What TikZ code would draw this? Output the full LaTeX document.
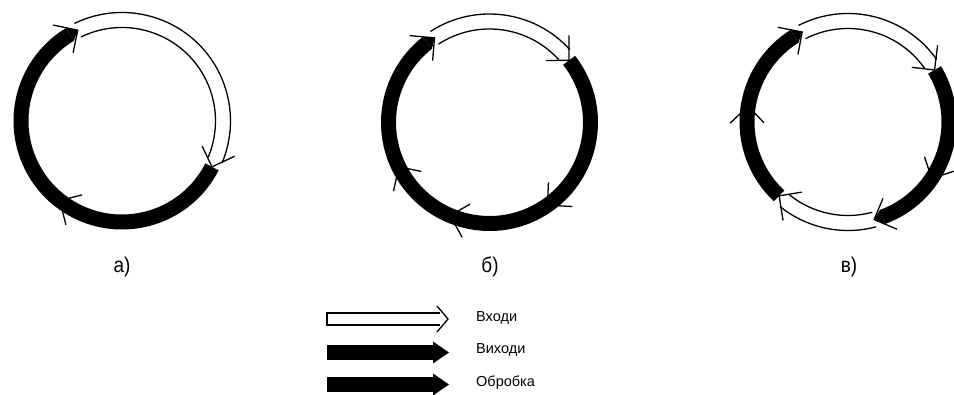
\documentclass[tikz,border=0pt]{standalone}
\usepackage{fontspec}
\setmainfont{Liberation Sans}
\tikzset{
  band/.style={line width=15pt},
  bandline/.style={line width=1.3pt},
  barb/.style={line width=1.3pt},
  lbl/.style={font=\fontsize{19}{19}\selectfont, yscale=1.12, inner sep=0pt},
  legtext/.style={font=\fontsize{14.5}{15}\selectfont, anchor=west, inner sep=0pt},
}
% black band: center, start angle, end angle (clockwise)
\newcommand\segblack[3]{\draw[band] ([shift={(#2:101pt)}]#1) arc[start angle=#2,end angle=#3,radius=101pt];}
% black pointed tip: center, tip angle
\newcommand\btip[2]{\fill ([shift={(#2+5:108.5pt)}]#1) -- ([shift={(#2:101pt)}]#1) -- ([shift={(#2+5:93.5pt)}]#1) -- cycle;}
% chevron: center, tip angle
\newcommand\chev[2]{\draw[barb] ([shift={(#2+9.6:118pt)}]#1) -- ([shift={(#2:101pt)}]#1) -- ([shift={(#2+9.6:84pt)}]#1);}
% white band: center, start angle, tip angle
\newcommand\segwhite[3]{%
  \fill[white] ([shift={(#2:108.5pt)}]#1) arc[start angle=#2,end angle=#3+4.2,radius=108.5pt]
     -- ([shift={(#3+4.2:93.5pt)}]#1) arc[start angle=#3+4.2,end angle=#2,radius=93.5pt] -- cycle;
  \draw[bandline] ([shift={(#2:108.5pt)}]#1) arc[start angle=#2,end angle=#3+4.2,radius=108.5pt];
  \draw[bandline] ([shift={(#2:93.5pt)}]#1) arc[start angle=#2,end angle=#3+4.2,radius=93.5pt];}
\begin{document}
\begin{tikzpicture}[x=1pt,y=1pt]
\useasboundingbox (0,0) rectangle (954,394);
\coordinate (A) at (122,273);
\coordinate (B) at (489.5,271.5);
\coordinate (C) at (848,272);

% ---- a)
\segblack{A}{-27}{-239}
\segwhite{A}{116}{-27}
\btip{A}{116}
\chev{A}{-27}
\chev{A}{116}
\chev{A}{232}

% ---- b)
\segblack{B}{38}{-232}
\segwhite{B}{123}{38}
\btip{B}{123}
\chev{B}{38}
\chev{B}{123}
\chev{B}{-55}
\chev{B}{247}
\chev{B}{206}

% ---- c)
\segblack{C}{31}{-70}
\segblack{C}{-133}{-238}
\segwhite{C}{117}{31}
\segwhite{C}{-75}{-133}
\btip{C}{-75}
\btip{C}{117}
\chev{C}{31}
\chev{C}{117}
\chev{C}{-34}
\chev{C}{-75}
\chev{C}{-133}
\chev{C}{171}

% labels
\node[lbl] (la) at (122,127) {а)};
\node[lbl] (lb) at (490,127) {б)};
\node[lbl] (lc) at (849,127) {в)};

% legend
\filldraw[fill=white, line width=1.3pt] (440,81) -- (327,81) -- (327,69) -- (440,69);
\draw[line width=1.3pt] (437,88) -- (448,75) -- (437,62);
\fill (327,34) rectangle (435,49);
\fill (433,52.5) -- (449,41.5) -- (433,30.5) -- cycle;
\fill (327,2) rectangle (435,17);
\fill (433,20.5) -- (449,9.5) -- (433,-1.5) -- cycle;
\node[legtext] (t1) at (476,76) {Входи};
\node[legtext] (t2) at (476,44) {Виходи};
\node[legtext] (t3) at (476,11) {Обробка};
\end{tikzpicture}
\end{document}
